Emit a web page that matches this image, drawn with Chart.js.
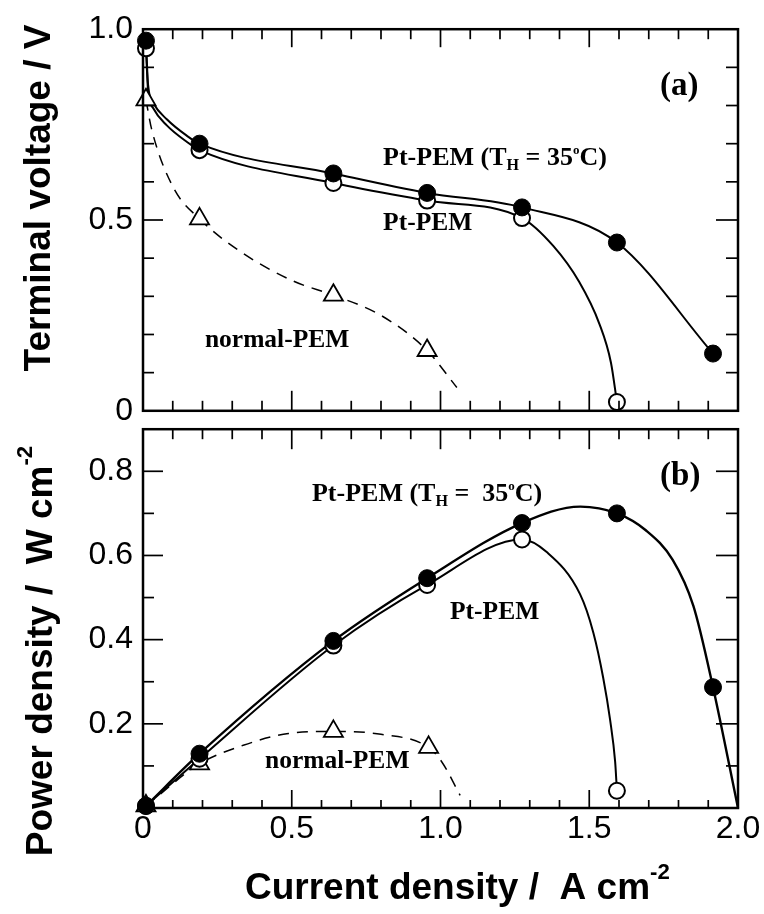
<!DOCTYPE html>
<html><head><meta charset="utf-8">
<script src="https://cdn.jsdelivr.net/npm/chart.js@4.4.1/dist/chart.umd.min.js"></script>
<style>
html,body{margin:0;padding:0;background:#fff;}
#wrap{position:relative;width:764px;height:914px;overflow:hidden;background:#fff;}
canvas{position:absolute;left:0;}
#cA{top:0;width:764px;height:440px;}
#cB{top:400px;width:764px;height:514px;}
</style></head><body>
<div id="wrap"><canvas id="cB" width="764" height="514"></canvas><canvas id="cA" width="764" height="440"></canvas></div>
<script>
// ---------- Panel (a): terminal voltage (V) vs current density (A cm-2) ----------
const I_ptH_a = [0.01, 0.19, 0.64, 0.955, 1.274, 1.593, 1.916];
const V_ptH   = [0.970, 0.700, 0.622, 0.571, 0.533, 0.441, 0.150];
const I_pt_a  = [0.01, 0.19, 0.64, 0.955, 1.274, 1.593];
const V_pt    = [0.950, 0.683, 0.597, 0.551, 0.505, 0.023];
const I_norm_a = [0.01, 0.19, 0.64, 0.955];
const V_norm   = [0.815, 0.503, 0.303, 0.158];
// unmarked points
const I_ptH_a_trace = [0.017, 0.035, 0.08, 0.147];
const V_ptH_trace   = [0.855, 0.806, 0.764, 0.721];
const I_pt_a_trace  = [0.017, 0.035, 0.08, 0.147, 1.379, 1.466, 1.534, 1.573];
const V_pt_trace    = [0.840, 0.792, 0.748, 0.705, 0.432, 0.338, 0.228, 0.126];
const I_norm_a_trace = [0.029, 0.102, 0.326, 0.505, 0.80, 1.055];
const V_norm_trace   = [0.738, 0.585, 0.418, 0.340, 0.250, 0.061];

// ---------- Panel (b): power density (W cm-2) vs current density ----------
const I_ptH_b = [0.01, 0.19, 0.64, 0.955, 1.274, 1.593, 1.916];
const P_ptH   = [0.005, 0.129, 0.397, 0.546, 0.677, 0.700, 0.287];
const I_pt_b  = [0.01, 0.19, 0.64, 0.955, 1.274, 1.593];
const P_pt    = [0.005, 0.117, 0.386, 0.530, 0.638, 0.041];
const I_norm_b = [0.01, 0.19, 0.64, 0.96];
const P_norm   = [0.005, 0.105, 0.182, 0.144];
const I_ptH_b_trace = [1.47, 1.69, 1.78, 1.85, 2.0];
const P_ptH_trace   = [0.716, 0.660, 0.590, 0.480, 0.0];
const I_pt_b_trace  = [1.357, 1.469, 1.514, 1.547, 1.570, 1.587];
const P_pt_trace    = [0.608, 0.508, 0.416, 0.309, 0.210, 0.110];
const I_norm_b_trace = [0.337, 0.489, 0.80, 1.004, 1.066];
const P_norm_trace   = [0.149, 0.177, 0.175, 0.110, 0.030];

// ---------- ticks ----------
const xTickVals = [0, 0.5, 1.0, 1.5, 2.0];
const xTickLabels = ['0', '0.5', '1.0', '1.5', '2.0'];
const vTickVals = [0, 0.5, 1.0];
const vTickLabels = ['0', '0.5', '1.0'];
const pTickVals = [0.2, 0.4, 0.6, 0.8];
const pTickLabels = ['0.2', '0.4', '0.6', '0.8'];
const xMinor = [0.1,0.2,0.3,0.4,0.6,0.7,0.8,0.9,1.1,1.2,1.3,1.4,1.6,1.7,1.8,1.9];
const xMajor = [0.5, 1.0, 1.5];
const vMinor = [0.1,0.2,0.3,0.4,0.6,0.7,0.8,0.9];
const vMajor = [0.5];
const pMinor = [0.1,0.3,0.5,0.7];
const pMajor = [0.2,0.4,0.6,0.8];

const SERIF = '"Liberation Serif", "Times New Roman", serif';
const SANS = '"Liberation Sans", Arial, Helvetica, sans-serif';

function pts(xs, ys) { return xs.map((x, i) => ({x: x, y: ys[i]})); }
function curve(xs, ys, txs, tys) { return pts(xs, ys).concat(pts(txs, tys)).sort((a, b) => a.x - b.x); }

function lineDs(data, dashed, width) {
  return {data: data, showLine: true, borderColor: '#000', borderWidth: width || 2, borderDash: dashed ? [11, 8] : [],
    pointRadius: 0, cubicInterpolationMode: 'monotone', fill: false, clip: false, order: 2};
}
function markDs(data, style) {
  const base = {data: data, showLine: false, clip: false, order: 1, borderColor: '#000'};
  if (style === 'filled') return Object.assign(base, {pointStyle: 'circle', pointRadius: 8.5, backgroundColor: '#000', borderWidth: 1});
  if (style === 'open') return Object.assign(base, {pointStyle: 'circle', pointRadius: 8, backgroundColor: '#fff', borderWidth: 2});
  return Object.assign(base, {pointStyle: 'triangle', pointRadius: 11, backgroundColor: '#fff', borderWidth: 1.8});
}

function drawRich(ctx, parts, x, y, size, family, weight, align) {
  let total = 0;
  const ws = parts.map(p => { ctx.font = weight + ' ' + (size * p[1]) + 'px ' + family; const w = ctx.measureText(p[0]).width; total += w; return w; });
  let cx = align === 'center' ? x - total / 2 : x;
  ctx.textAlign = 'left'; ctx.textBaseline = 'alphabetic';
  parts.forEach((p, i) => { ctx.font = weight + ' ' + (size * p[1]) + 'px ' + family; ctx.fillText(p[0], cx, y + p[2] * size); cx += ws[i]; });
}

function decor(cfg) {
  return {
    id: 'decor',
    afterDraw(chart) {
      const ctx = chart.ctx, a = chart.chartArea, xs = chart.scales.x, ys = chart.scales.y;
      ctx.save();
      ctx.strokeStyle = '#000'; ctx.fillStyle = '#000'; ctx.lineCap = 'butt';
      const seg = (x1, y1, x2, y2) => { ctx.beginPath(); ctx.moveTo(x1, y1); ctx.lineTo(x2, y2); ctx.stroke(); };
      ctx.lineWidth = 1.7;
      cfg.yTicks.forEach(t => t.vals.forEach(v => { const py = ys.getPixelForValue(v); seg(a.left, py, a.left + t.l, py); seg(a.right, py, a.right - t.r, py); }));
      cfg.xTicks.forEach(t => t.vals.forEach(v => { const px = xs.getPixelForValue(v); if (t.top) seg(px, a.top, px, a.top + t.top); if (t.bottom) seg(px, a.bottom, px, a.bottom - t.bottom); }));
      ctx.lineWidth = 2.5;
      ctx.strokeRect(a.left, a.top, a.right - a.left, a.bottom - a.top);
      cfg.notes.forEach(n => {
        drawRich(ctx, n.parts, xs.getPixelForValue(n.x), ys.getPixelForValue(n.y), n.size, SERIF, 'bold', 'left');
      });
      cfg.titles.forEach(t => {
        ctx.save();
        ctx.translate(t.x, t.y);
        if (t.rot) ctx.rotate(-Math.PI / 2);
        drawRich(ctx, t.parts, 0, 0, t.size, SANS, 'bold', t.align);
        ctx.restore();
      });
      ctx.restore();
    }
  };
}

const thLabel = [['Pt-PEM (T', 1, 0], ['H', 0.62, 0.2], [' = 35', 1, 0], ['o', 0.5, -0.42], ['C)', 1, 0]];
const thLabel2 = [['Pt-PEM (T', 1, 0], ['H', 0.62, 0.2], [' =  35', 1, 0], ['o', 0.5, -0.42], ['C)', 1, 0]];

function commonOpts(yMin, yMax, yVals, yLabels, padTop, xAxisH, showX) {
  return {
    responsive: false, animation: false, events: [],
    layout: {padding: {top: padTop, right: 26, left: 0, bottom: 0}},
    plugins: {legend: {display: false}, tooltip: {enabled: false}},
    scales: {
      x: {type: 'linear', min: 0, max: 2,
        afterBuildTicks: s => { s.ticks = xTickVals.map(v => ({value: v})); },
        ticks: {display: showX, autoSkip: false, maxRotation: 0, padding: 2, color: '#000',
          font: {family: SANS, size: 32}, callback: (v, i) => xTickLabels[i]},
        grid: {display: false, drawTicks: false}, border: {display: false},
        afterFit: s => { s.height = xAxisH; }},
      y: {type: 'linear', min: yMin, max: yMax,
        afterBuildTicks: s => { s.ticks = yVals.map(v => ({value: v})); },
        ticks: {autoSkip: false, padding: 10, color: '#000', font: {family: SANS, size: 32},
          callback: (v, i) => yLabels[i]},
        grid: {display: false, drawTicks: false}, border: {display: false},
        afterFit: s => { s.width = 143; }}
    }
  };
}

new Chart(document.getElementById('cA'), {
  type: 'scatter',
  data: {datasets: [
    markDs(pts(I_ptH_a, V_ptH), 'filled'),
    markDs(pts(I_pt_a, V_pt), 'open'),
    markDs(pts(I_norm_a, V_norm), 'tri'),
    lineDs(curve(I_ptH_a, V_ptH, I_ptH_a_trace, V_ptH_trace), false, 2),
    lineDs(curve(I_pt_a, V_pt, I_pt_a_trace, V_pt_trace), false, 2),
    lineDs(curve(I_norm_a, V_norm, I_norm_a_trace, V_norm_trace), true, 1.5)
  ]},
  options: commonOpts(0, 1, vTickVals, vTickLabels, 24, 24, false),
  plugins: [decor({
    yTicks: [{vals: vMinor, l: 11, r: 12}, {vals: vMajor, l: 20, r: 22}],
    xTicks: [{vals: xMinor, top: 10, bottom: 10}, {vals: xMajor, top: 18, bottom: 20}],
    notes: [
      {x: 1.738, y: 0.828, size: 33, parts: [['(a)', 1, 0]]},
      {x: 0.807, y: 0.645, size: 26, parts: thLabel},
      {x: 0.807, y: 0.474, size: 25.5, parts: [['Pt-PEM', 1, 0]]},
      {x: 0.208, y: 0.168, size: 25.5, parts: [['normal-PEM', 1, 0]]}
    ],
    titles: [{x: 50, y: 198, rot: true, size: 37, align: 'center', parts: [['Terminal voltage / V', 1, 0]]}]
  })]
});

new Chart(document.getElementById('cB'), {
  type: 'scatter',
  data: {datasets: [
    markDs(pts(I_ptH_b, P_ptH), 'filled'),
    markDs(pts(I_pt_b, P_pt), 'open'),
    markDs(pts(I_norm_b, P_norm), 'tri'),
    lineDs(curve(I_ptH_b, P_ptH, I_ptH_b_trace, P_ptH_trace), false, 2.4),
    lineDs(curve(I_pt_b, P_pt, I_pt_b_trace, P_pt_trace), false, 2),
    lineDs(curve(I_norm_b, P_norm, I_norm_b_trace, P_norm_trace), true, 1.5)
  ]},
  options: commonOpts(0, 0.9, pTickVals, pTickLabels, 16, 106, true),
  plugins: [decor({
    yTicks: [{vals: pMinor, l: 11, r: 12}, {vals: pMajor, l: 20, r: 22}],
    xTicks: [{vals: xMinor, top: 10, bottom: 8}, {vals: xMajor, top: 20, bottom: 18}],
    notes: [
      {x: 1.738, y: 0.768, size: 33, parts: [['(b)', 1, 0]]},
      {x: 0.568, y: 0.730, size: 26, parts: thLabel2},
      {x: 1.032, y: 0.448, size: 25.5, parts: [['Pt-PEM', 1, 0]]},
      {x: 0.41, y: 0.094, size: 25.5, parts: [['normal-PEM', 1, 0]]}
    ],
    titles: [
      {x: 52, y: 251, rot: true, size: 37, align: 'center', parts: [['Power density /  W cm', 1, 0], ['-2', 0.6, -0.55]]},
      {x: 245, y: 499, rot: false, size: 37, align: 'left', parts: [['Current density /  A cm', 1, 0], ['-2', 0.6, -0.55]]}
    ]
  })]
});
</script>
</body></html>
